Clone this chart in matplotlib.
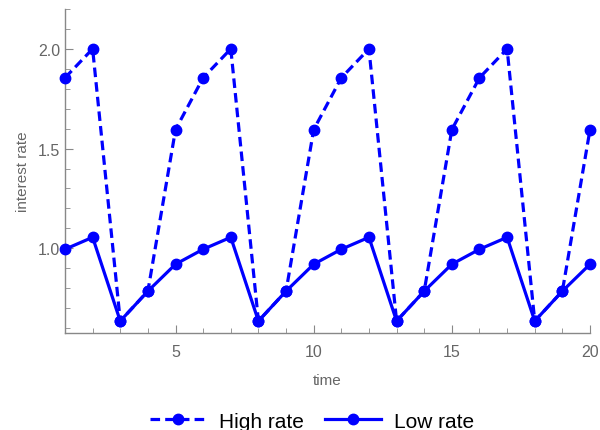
import matplotlib
matplotlib.use("Agg")
import matplotlib.pyplot as plt
from matplotlib.ticker import MultipleLocator

plt.rcParams['font.family'] = ['Liberation Sans', 'DejaVu Sans']

time = list(range(1, 21))
high_rate = [1.855, 2.0, 0.635, 0.785, 1.595, 1.855, 2.0, 0.635, 0.785, 1.595,
             1.855, 2.0, 0.635, 0.785, 1.595, 1.855, 2.0, 0.635, 0.785, 1.595]
low_rate = [0.995, 1.055, 0.635, 0.785, 0.92, 0.995, 1.055, 0.635, 0.785, 0.92,
            0.995, 1.055, 0.635, 0.785, 0.92, 0.995, 1.055, 0.635, 0.785, 0.92]

fig = plt.figure(figsize=(6.0, 4.31), dpi=100)
ax = fig.add_axes([65/600, 1 - 334/431, 525/600, 324/431])

blue = '#0000ff'
ax.plot(time, high_rate, color=blue, lw=2.3, ls=(0, (3, 1.6)), marker='o', ms=7.5,
        label='High rate', clip_on=False, zorder=3)
ax.plot(time, low_rate, color=blue, lw=2.3, ls='-', marker='o', ms=7.5,
        label='Low rate', clip_on=False, zorder=3)

ax.set_xlim(1, 20)
ax.set_ylim(0.575, 2.2)
ax.xaxis.set_major_locator(MultipleLocator(5))
ax.xaxis.set_minor_locator(MultipleLocator(1))
ax.yaxis.set_major_locator(MultipleLocator(0.5))
ax.yaxis.set_minor_locator(MultipleLocator(0.1))
ax.yaxis.set_major_formatter(matplotlib.ticker.FormatStrFormatter('%.1f'))

gray = '#888888'
for s in ['top', 'right']:
    ax.spines[s].set_visible(False)
for s in ['left', 'bottom']:
    ax.spines[s].set_color(gray)
    ax.spines[s].set_linewidth(1.0)
ax.tick_params(which='both', direction='in', color=gray, labelcolor='#666666', labelsize=11.5)
ax.tick_params(which='major', length=6)
ax.tick_params(which='minor', length=3.5)
ax.tick_params(axis='x', pad=8)

ax.set_xlabel('time', color='#666666', fontsize=11, labelpad=10)
ax.set_ylabel('interest rate', color='#666666', fontsize=11, labelpad=6)

fig.legend(loc='lower center', bbox_to_anchor=(0.52, -0.045), ncol=2, frameon=False,
           fontsize=15, handlelength=2.7, columnspacing=1.0, handletextpad=0.6)

fig.savefig('out.png', dpi=100)
